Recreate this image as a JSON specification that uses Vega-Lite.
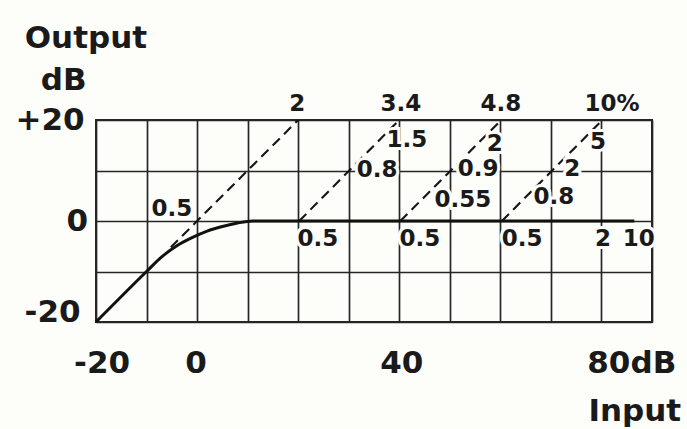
{
  "$schema": "https://vega.github.io/schema/vega-lite/v6.json",
  "width": 556,
  "height": 202,
  "autosize": {"type": "none"},
  "padding": {"left": 96, "top": 120, "right": 35, "bottom": 107},
  "background": "#fdfdfa",
  "config": {
    "view": {"stroke": "#262626", "strokeWidth": 2},
    "text": {"font": "DejaVu Sans"}
  },
  "datasets": {
    "curve": [
      {"x": -20, "y": -20},
      {"x": -10, "y": -10},
      {"x": -7, "y": -7.1},
      {"x": -4, "y": -4.9},
      {"x": -1, "y": -3.3},
      {"x": 2, "y": -2.0},
      {"x": 5, "y": -1.1},
      {"x": 8, "y": -0.4},
      {"x": 11, "y": 0},
      {"x": 86.5, "y": 0}
    ],
    "dashed": [
      {"s": "a", "x": -5.2, "y": -5.2},
      {"s": "a", "x": 20, "y": 20},
      {"s": "b", "x": 20.2, "y": 0},
      {"s": "b", "x": 39.8, "y": 19.8},
      {"s": "c", "x": 40.2, "y": 0},
      {"s": "c", "x": 60, "y": 19.8},
      {"s": "d", "x": 60.3, "y": 0},
      {"s": "d", "x": 80, "y": 19.8}
    ],
    "inner": [
      {"x": 19.8, "y": 23.2, "t": "2"},
      {"x": 40.3, "y": 23.2, "t": "3.4"},
      {"x": 60.1, "y": 23.2, "t": "4.8"},
      {"x": 82.1, "y": 23.2, "t": "10%"},
      {"x": -5.0, "y": 2.4, "t": "0.5"},
      {"x": 41.5, "y": 16.0, "t": "1.5"},
      {"x": 35.6, "y": 10.1, "t": "0.8"},
      {"x": 23.9, "y": -3.6, "t": "0.5"},
      {"x": 44.1, "y": -3.6, "t": "0.5"},
      {"x": 64.3, "y": -3.6, "t": "0.5"},
      {"x": 80.3, "y": -3.6, "t": "2"},
      {"x": 87.4, "y": -3.6, "t": "10"},
      {"x": 58.9, "y": 15.2, "t": "2"},
      {"x": 55.6, "y": 10.3, "t": "0.9"},
      {"x": 52.6, "y": 4.2, "t": "0.55"},
      {"x": 79.3, "y": 15.6, "t": "5"},
      {"x": 74.2, "y": 10.3, "t": "2"},
      {"x": 70.6, "y": 4.8, "t": "0.8"}
    ],
    "big": [
      {"x": -29.1, "y": 19.8, "t": "+20"},
      {"x": -23.7, "y": -0.2, "t": "0"},
      {"x": -28.6, "y": -18.2, "t": "-20"},
      {"x": -18.8, "y": -28.3, "t": "-20"},
      {"x": -0.2, "y": -28.3, "t": "0"},
      {"x": 40.5, "y": -28.3, "t": "40"},
      {"x": 86.0, "y": -28.3, "t": "80dB"},
      {"x": -22.0, "y": 36.0, "t": "Output"},
      {"x": -26.4, "y": 27.8, "t": "dB"},
      {"x": 86.6, "y": -37.8, "t": "Input"}
    ]
  },
  "encoding": {
    "x": {
      "field": "x",
      "type": "quantitative",
      "scale": {"domain": [-20, 90], "nice": false, "zero": false},
      "axis": {
        "values": [-20, -10, 0, 10, 20, 30, 40, 50, 60, 70, 80, 90],
        "labels": false, "ticks": false, "domain": false, "title": null,
        "grid": true, "gridColor": "#262626", "gridWidth": 1.7, "gridOpacity": 1
      }
    },
    "y": {
      "field": "y",
      "type": "quantitative",
      "scale": {"domain": [-20, 20], "nice": false, "zero": false},
      "axis": {
        "values": [-20, -10, 0, 10, 20],
        "labels": false, "ticks": false, "domain": false, "title": null,
        "grid": true, "gridColor": "#262626", "gridWidth": 1.7, "gridOpacity": 1
      }
    }
  },
  "layer": [
    {
      "data": {"name": "dashed"},
      "mark": {"type": "line", "color": "#151515", "strokeWidth": 2.1, "strokeDash": [10, 6]},
      "encoding": {"detail": {"field": "s", "type": "nominal"}}
    },
    {
      "data": {"name": "curve"},
      "mark": {"type": "line", "color": "#111111", "strokeWidth": 3, "interpolate": "monotone"},
      "encoding": {}
    },
    {
      "data": {"name": "inner"},
      "mark": {"type": "text", "fontSize": 23, "fontWeight": "bold", "baseline": "middle", "align": "center", "stroke": "#fdfdfa", "strokeWidth": 6, "color": "#fdfdfa"},
      "encoding": {"text": {"field": "t", "type": "nominal"}}
    },
    {
      "data": {"name": "inner"},
      "mark": {"type": "text", "fontSize": 23, "fontWeight": "bold", "baseline": "middle", "align": "center", "color": "#1a1a1a"},
      "encoding": {"text": {"field": "t", "type": "nominal"}}
    },
    {
      "data": {"name": "big"},
      "mark": {"type": "text", "fontSize": 31, "fontWeight": "bold", "baseline": "middle", "align": "center", "color": "#1a1a1a"},
      "encoding": {"text": {"field": "t", "type": "nominal"}}
    }
  ]
}
